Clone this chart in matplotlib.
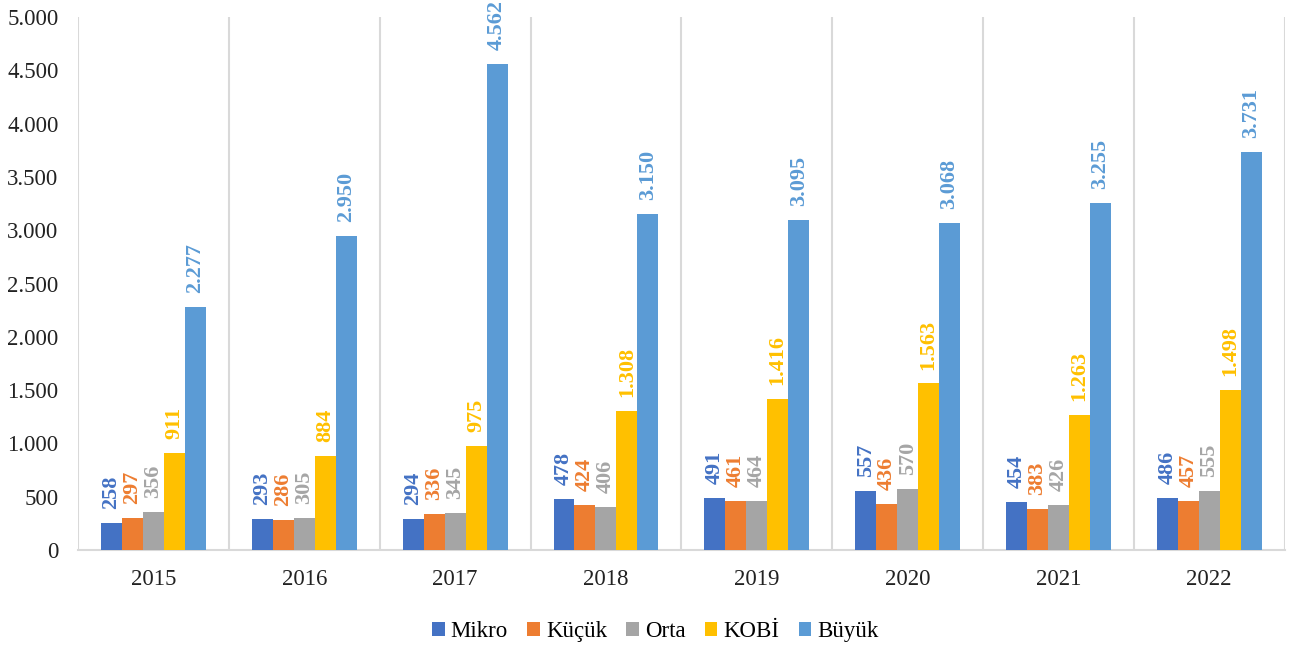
import numpy as np
import matplotlib.pyplot as plt
from matplotlib.ticker import FuncFormatter

plt.rcParams['font.family'] = ['Liberation Serif', 'DejaVu Serif']

years = ['2015', '2016', '2017', '2018', '2019', '2020', '2021', '2022']
seriler = ['Mikro', 'Küçük', 'Orta', 'KOBİ', 'Büyük']
mikro = [258, 293, 294, 478, 491, 557, 454, 486]
kucuk = [297, 286, 336, 424, 461, 436, 383, 457]
orta = [356, 305, 345, 406, 464, 570, 426, 555]
kobi = [911, 884, 975, 1308, 1416, 1563, 1263, 1498]
buyuk = [2277, 2950, 4562, 3150, 3095, 3068, 3255, 3731]
renkler = ['#4472C4', '#ED7D31', '#A5A5A5', '#FFC000', '#5B9BD5']

def tr_fmt(v):
    return f'{int(round(v)):,}'.replace(',', '.')

fig = plt.figure(figsize=(13.03, 6.49), dpi=100)
ax = fig.add_axes([0.0599, 0.1525, 0.926, 0.8213])

x = np.arange(len(years))
w = 0.139
veriler = [mikro, kucuk, orta, kobi, buyuk]
for i, (ad, vals, c) in enumerate(zip(seriler, veriler, renkler)):
    pos = x + (i - 2) * w
    ax.bar(pos, vals, width=w, color=c, label=ad, zorder=3)
    for px, v in zip(pos, vals):
        ax.annotate(tr_fmt(v), (px, v), xytext=(0, 10), textcoords='offset points',
                    rotation=90, ha='center', va='bottom', color=c,
                    fontsize=16, fontweight='bold', annotation_clip=False)

ax.set_xlim(-0.5, len(years) - 0.5)
ax.set_ylim(0, 5000)
ax.set_yticks(np.arange(0, 5001, 500))
ax.yaxis.set_major_formatter(FuncFormatter(lambda v, p: tr_fmt(v)))
ax.set_xticks(x)
ax.set_xticklabels(years)
for b in np.arange(-0.5, len(years), 1.0):
    ax.axvline(b, color='#D9D9D9', lw=1.5, zorder=1)
for s in ['top', 'right', 'left']:
    ax.spines[s].set_visible(False)
ax.spines['bottom'].set_color('#D9D9D9')
ax.spines['bottom'].set_linewidth(1.5)
ax.tick_params(axis='both', length=0, labelsize=16.5, colors='#222222')
ax.tick_params(axis='x', pad=14)
ax.tick_params(axis='y', pad=14)

fig.legend(loc='center', bbox_to_anchor=(0.503, 0.027), ncol=5, frameon=False,
           fontsize=16.5, handlelength=0.55, handleheight=0.55, handletextpad=0.25,
           columnspacing=0.85)

fig.savefig('out.png', dpi=100)
